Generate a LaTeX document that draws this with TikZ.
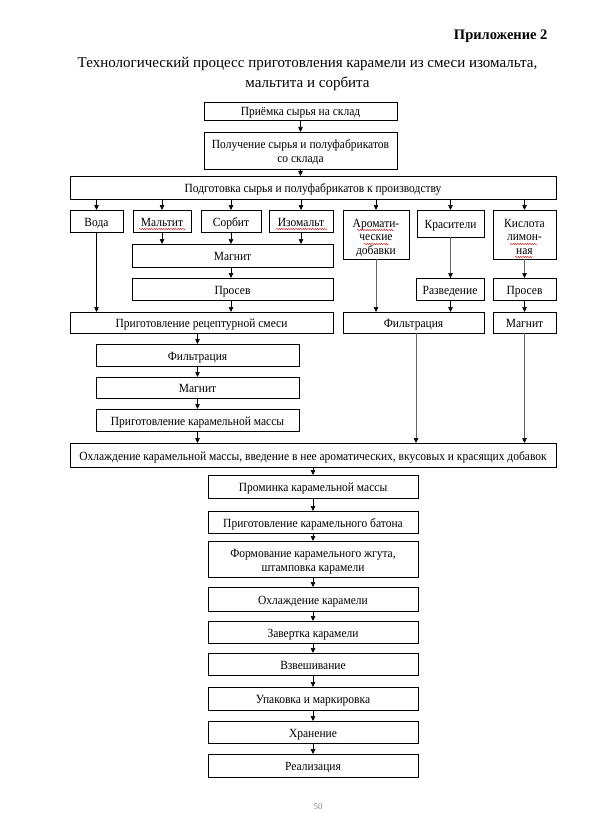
\documentclass[tikz,border=0pt]{standalone}
\usepackage{fontspec}
\setmainfont{Liberation Serif}
\newfontfamily\boxfont{Liberation Serif}[FakeStretch=0.92]
\usetikzlibrary{arrows.meta,decorations.pathmorphing,calc}
\begin{document}
\begin{tikzpicture}[x=1pt,y=-1pt,
  box/.style={draw, line width=0.7pt, inner sep=1pt, outer sep=0pt, align=center,
    text height=10pt, text depth=0pt,
    font=\boxfont\fontsize{12.5}{13.6}\selectfont},
  two/.style={text height=24pt},
  three/.style={text height=40pt},
  arr/.style={-{Triangle[length=5pt,width=4.5pt]}, line width=0.7pt},
  garr/.style={-{Triangle[length=5pt,width=4.5pt,color=black]}, line width=0.7pt, draw=black!60},
  wav/.style={red!80!black, line width=0.4pt, decorate, decoration={snake, amplitude=0.6pt, segment length=2.4pt}}]
\fill[white] (0,0) rectangle (608,813);
\useasboundingbox (0,0) rectangle (608,813);

% headings
\node[anchor=east, font=\fontsize{14.5}{16}\selectfont\bfseries] (app) at (551,36) {Приложение 2};
\node[align=center, font=\fontsize{15}{20}\selectfont] (title) at (307.5,74) {Технологический процесс приготовления карамели из смеси изомальта,\\мальтита и сорбита};

% top chain
\node[box, minimum width=193pt, minimum height=18pt] (rcv) at (300.5,111) {Приёмка сырья на склад};
\node[box, two, minimum width=193pt, minimum height=37pt] (get) at (300.5,150.5) {Получение сырья и полуфабрикатов\\со склада};
\node[box, minimum width=486pt, minimum height=23pt] (prep) at (313,187.5) {Подготовка сырья и полуфабрикатов к производству};

% raw materials row
\node[box, minimum width=53pt, minimum height=22pt] (voda) at (96.5,221) {Вода};
\node[box, minimum width=58pt, minimum height=22pt] (malt) at (162,221) {Мальтит};
\node[box, minimum width=60pt, minimum height=22pt] (sorb) at (231,221) {Сорбит};
\node[box, minimum width=64pt, minimum height=22pt] (izo) at (301,221) {Изомальт};
\node[box, three, minimum width=66pt, minimum height=49pt] (arom) at (376,234.5) {Аромати-\\ческие\\добавки};
\node[box, minimum width=67pt, minimum height=27pt] (kras) at (450.5,223.5) {Красители};
\node[box, three, minimum width=63pt, minimum height=49pt] (kisl) at (524.5,234.5) {Кислота\\лимон-\\ная};

\node[box, minimum width=201pt, minimum height=23pt] (magn1) at (232.5,255.5) {Магнит};
\node[box, minimum width=201pt, minimum height=22pt] (pros1) at (232.5,289) {Просев};
\node[box, minimum width=68pt, minimum height=22pt] (razv) at (450,289) {Разведение};
\node[box, minimum width=63pt, minimum height=22pt] (pros2) at (524.5,289) {Просев};

\node[box, minimum width=263pt, minimum height=21pt] (recep) at (201.5,322.5) {Приготовление рецептурной смеси};
\node[box, minimum width=141pt, minimum height=21pt] (filt2) at (413.5,322.5) {Фильтрация};
\node[box, minimum width=63pt, minimum height=21pt] (magn2) at (524.5,322.5) {Магнит};

\node[box, minimum width=203pt, minimum height=22pt] (filt1) at (197.5,355) {Фильтрация};
\node[box, minimum width=203pt, minimum height=21pt] (magn3) at (197.5,387.5) {Магнит};
\node[box, minimum width=203pt, minimum height=22pt] (karm) at (197.5,420) {Приготовление карамельной массы};

\node[box, minimum width=486pt, minimum height=24pt] (cool) at (313,455) {Охлаждение карамельной массы, введение в нее ароматических, вкусовых и красящих добавок};

% bottom chain
\node[box, minimum width=210pt, minimum height=23pt] (prom) at (313,486.5) {Проминка карамельной массы};
\node[box, minimum width=210pt, minimum height=22pt] (baton) at (313,522) {Приготовление карамельного батона};
\node[box, two, minimum width=210pt, minimum height=36pt] (form) at (313,559) {Формование карамельного жгута,\\штамповка карамели};
\node[box, minimum width=210pt, minimum height=24pt] (coolc) at (313,599) {Охлаждение карамели};
\node[box, minimum width=210pt, minimum height=22pt] (zav) at (313,632) {Завертка карамели};
\node[box, minimum width=210pt, minimum height=22pt] (vzv) at (313,664) {Взвешивание};
\node[box, minimum width=210pt, minimum height=23pt] (upak) at (313,698.5) {Упаковка и маркировка};
\node[box, minimum width=210pt, minimum height=22pt] (hran) at (313,732) {Хранение};
\node[box, minimum width=210pt, minimum height=23pt] (real) at (313,765.5) {Реализация};

\node[font=\fontsize{9}{10}\selectfont, text=black!45] (page) at (318,807) {50};

% connectors
\draw[arr] (rcv) -- (get);
\draw[arr] (get) -- (get.south |- prep.north);
\foreach \n in {voda,malt,sorb,izo,arom,kras,kisl}
  \draw[arr] (\n.north |- prep.south) -- (\n.north);
\foreach \n in {malt,sorb,izo}
  \draw[arr] (\n.south) -- (\n.south |- magn1.north);
\draw[arr] (sorb.south |- magn1.south) -- (sorb.south |- pros1.north);
\draw[arr] (sorb.south |- pros1.south) -- (sorb.south |- recep.north);
\draw[arr] (voda.south) -- (voda.south |- recep.north);
\draw[garr] (arom.south) -- (arom.south |- filt2.north);
\draw[garr] (kras.south) -- (kras.south |- razv.north);
\draw[arr] (kras.south |- razv.south) -- (kras.south |- filt2.north);
\draw[garr] (kisl.south) -- (pros2.north);
\draw[arr] (pros2) -- (magn2);
\draw[arr] (filt1.north |- recep.south) -- (filt1.north);
\draw[arr] (filt1) -- (magn3);
\draw[arr] (magn3) -- (karm);
\draw[arr] (karm.south) -- (karm.south |- cool.north);
\draw[garr] (razv.west |- filt2.south) -- (razv.west |- cool.north);
\draw[garr] (magn2.south) -- (magn2.south |- cool.north);
\draw[arr] (prom.north |- cool.south) -- (prom.north);
\draw[arr] (prom) -- (baton);
\draw[arr] (baton) -- (form);
\draw[arr] (form) -- (coolc);
\draw[arr] (coolc) -- (zav);
\draw[arr] (zav) -- (vzv);
\draw[arr] (vzv) -- (upak);
\draw[arr] (upak) -- (hran);
\draw[arr] (hran) -- (real);

% spell-check wavy underlines
\draw[wav] (139,229) -- (186,229);
\draw[wav] (276,229) -- (327,229);
\draw[wav] (357,230) -- (394,230);
\draw[wav] (364,244) -- (389,244);
\draw[wav] (510,244) -- (537,244);
\draw[wav] (515,257) -- (533,257);
\end{tikzpicture}
\end{document}
